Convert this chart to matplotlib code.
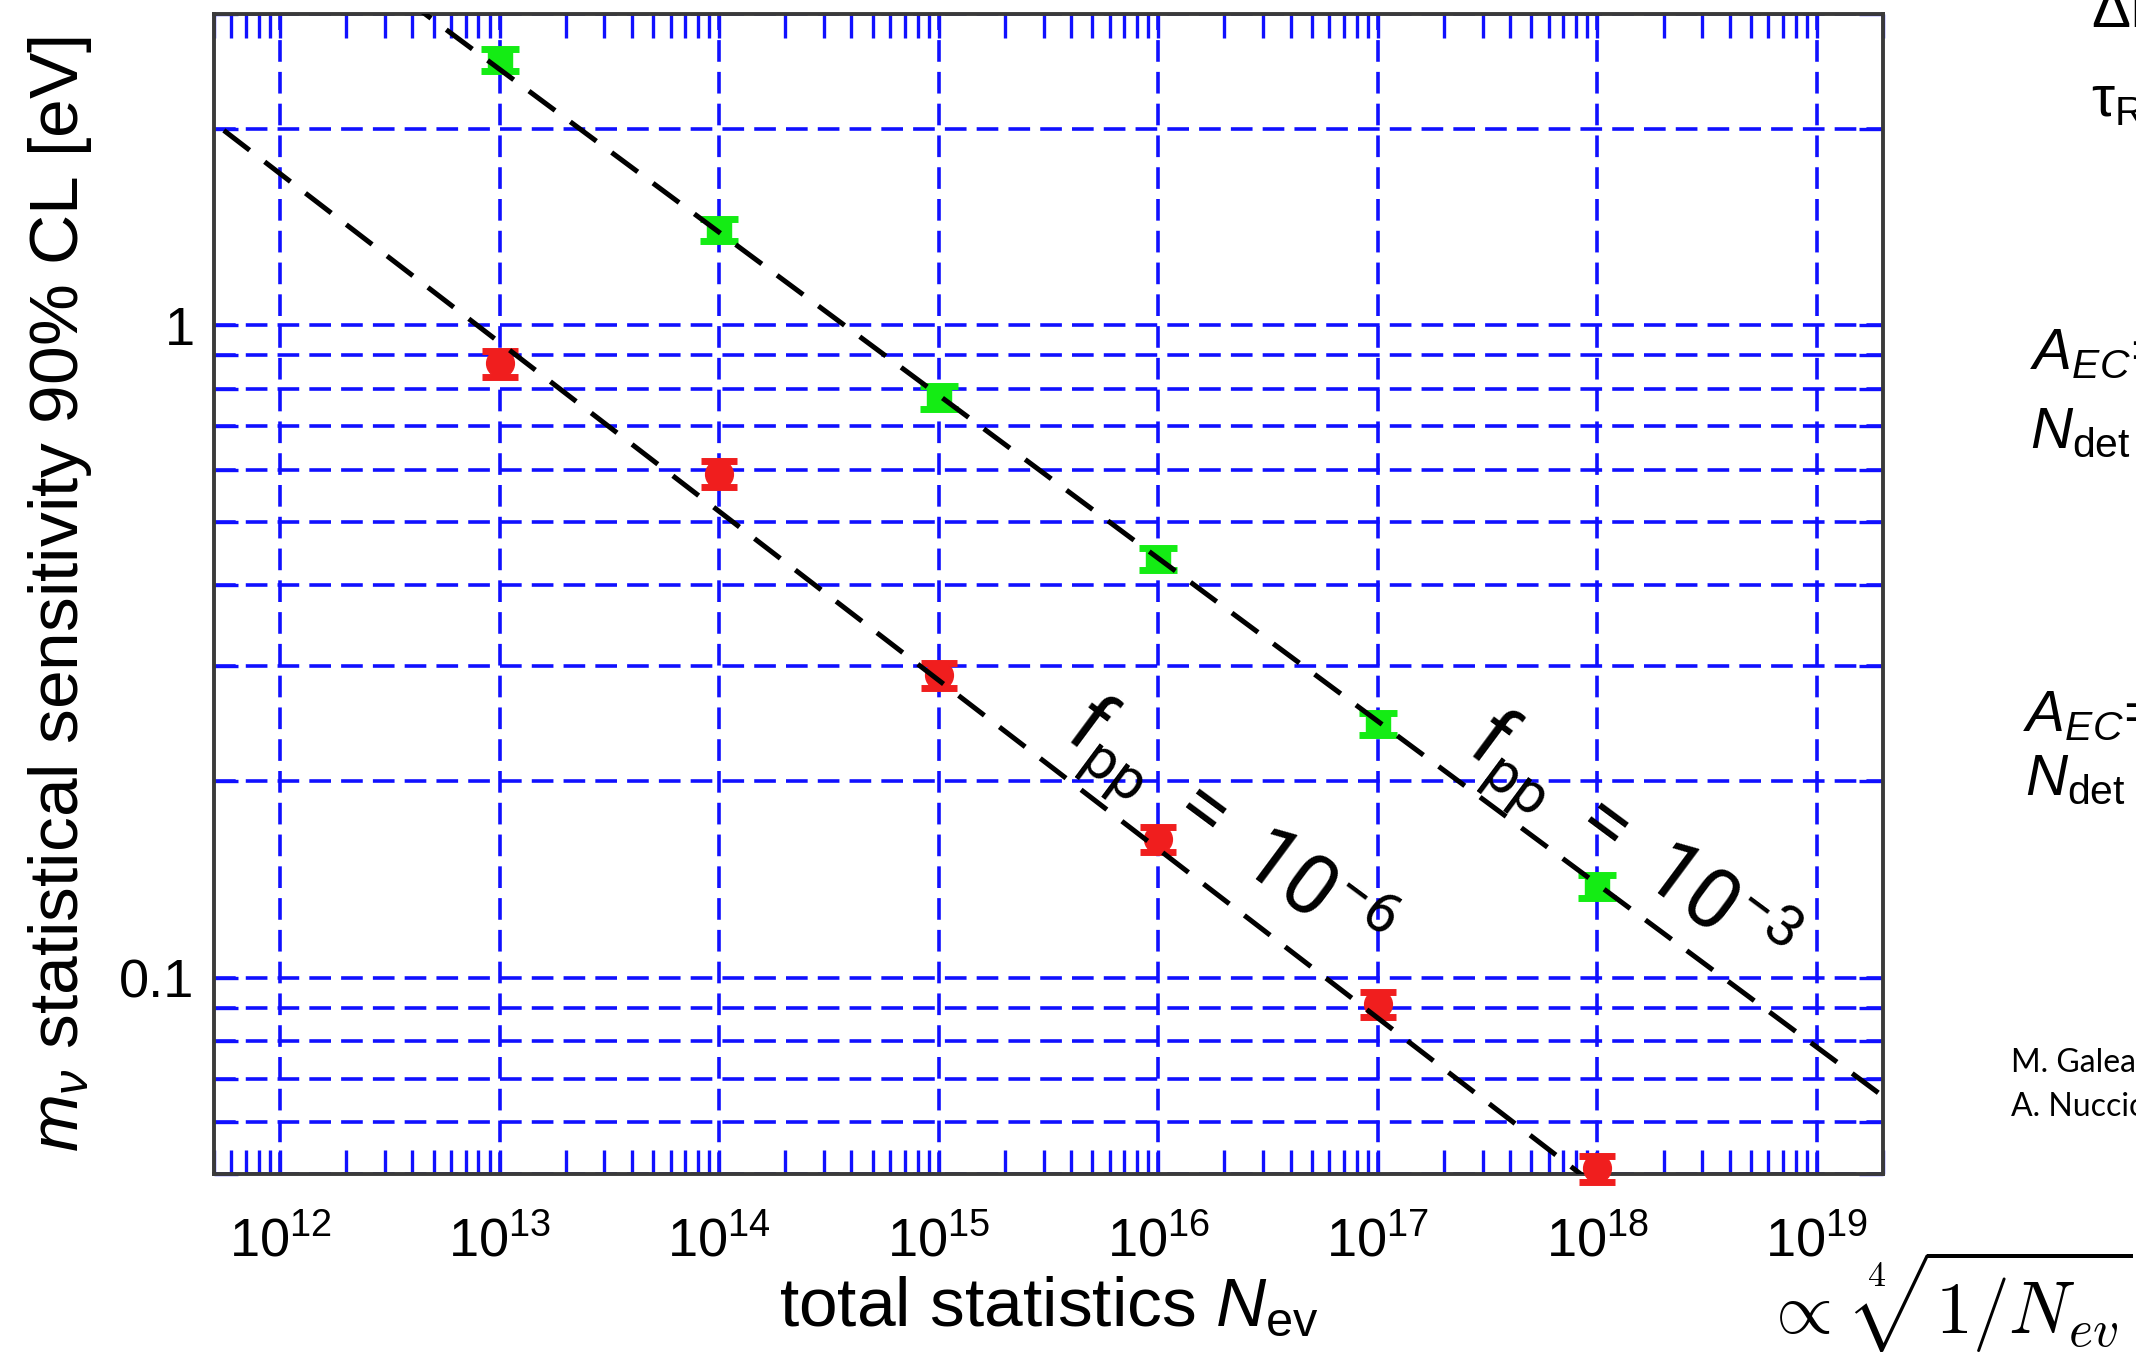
import matplotlib
matplotlib.use('Agg')
import matplotlib.pyplot as plt
from matplotlib.ticker import LogLocator, NullFormatter, FuncFormatter

plt.rcParams['font.family'] = ['Liberation Sans', 'DejaVu Sans']
plt.rcParams['mathtext.fontset'] = 'custom'
plt.rcParams['mathtext.rm'] = 'Liberation Sans'
plt.rcParams['mathtext.it'] = 'Liberation Sans:italic'
plt.rcParams['mathtext.bf'] = 'Liberation Sans:bold'

# total statistics N_ev
n_ev = [1e13, 1e14, 1e15, 1e16, 1e17, 1e18]
# m_nu sensitivity [eV], f_pp = 1e-3 (green) and f_pp = 1e-6 (red)
m_fpp3 = [2.55, 1.40, 0.775, 0.439, 0.245, 0.138]
m_fpp6 = [0.874, 0.592, 0.291, 0.163, 0.091, 0.051]
err_fpp3 = [0.10, 0.055, 0.031, 0.017, 0.0095, 0.0055]
err_fpp6 = [0.04, 0.027, 0.013, 0.0074, 0.0041, 0.0023]

# dashed N^-1/4 guide lines, end values
fit_n = [1e11, 1e20]
fit_fpp3 = [7.8, 0.044]
fit_fpp6 = [3.1, 0.0145]

fig = plt.figure(figsize=(21.36, 13.54), dpi=100)
ax = fig.add_axes([0.1002, 0.1329, 0.7814, 0.8567])
ax.set_xscale('log')
ax.set_yscale('log')
ax.set_xlim(5e11, 2e19)
ax.set_ylim(0.05, 3)

ax.xaxis.set_major_locator(LogLocator(base=10, numticks=20))
ax.xaxis.set_minor_locator(LogLocator(base=10, subs=range(2, 10), numticks=40))
ax.xaxis.set_minor_formatter(NullFormatter())
ax.yaxis.set_minor_locator(LogLocator(base=10, subs=range(2, 10), numticks=20))
ax.yaxis.set_major_formatter(FuncFormatter(lambda v, p: '%g' % v))
ax.yaxis.set_minor_formatter(NullFormatter())

gridkw = dict(color='#1010ff', lw=2.6, dashes=(6.0, 2.8))
ax.xaxis.grid(True, which='major', **gridkw)
ax.yaxis.grid(True, which='both', **gridkw)
ax.set_axisbelow(True)

ax.tick_params(which='both', direction='in', top=True, right=True,
               color='#1010ff', width=2.4, length=17, labelsize=39)
ax.tick_params(axis='x', which='both', pad=30)
ax.tick_params(axis='y', which='both', pad=14)

for s in ax.spines.values():
    s.set_color('#3a3a3a')
    s.set_linewidth(2.8)

ax.errorbar(n_ev, m_fpp3, yerr=err_fpp3, fmt='s', color='#14ec14', ms=17,
            capsize=14, capthick=5, elinewidth=3, zorder=3, clip_on=False)
ax.errorbar(n_ev, m_fpp6, yerr=err_fpp6, fmt='o', color='#f01e1e', ms=20,
            capsize=13, capthick=5, elinewidth=3, zorder=3, clip_on=False)

ax.plot(fit_n, fit_fpp3, color='black', lw=3.6, dashes=(6.5, 3.8), zorder=4)
ax.plot(fit_n, fit_fpp6, color='black', lw=3.6, dashes=(6.5, 3.8), zorder=4)

txtkw = dict(rotation=-36.6, rotation_mode='anchor', ha='center', va='center',
             fontsize=60, family=['Roboto', 'DejaVu Sans'], zorder=5)
ax.text(10**16.31, 0.168, r'$\mathdefault{f_{pp}\ =\ 10^{-6}}$', **txtkw)
ax.text(10**18.14, 0.160, r'$\mathdefault{f_{pp}\ =\ 10^{-3}}$', **txtkw)

ax.set_xlabel(r'total statistics $\mathit{N}_{\mathrm{ev}}$', fontsize=50, labelpad=6)
ax.set_ylabel(r'$\mathit{m}_{\nu}$ statistical sensitivity 90% CL [eV]', fontsize=50, labelpad=18)

# slide text cut off at the right edge
fig.text(0.9789, 0.9801, 'ΔE', fontsize=42, va='baseline')
fig.text(0.9789, 0.9143, r'$\mathrm{\tau_{R}}$', fontsize=42, va='baseline')
fig.text(0.9504, 0.7275, r'$\mathit{A}_{\mathit{EC}}$=', fontsize=42, va='baseline')
fig.text(0.9504, 0.6691, r'$\mathit{N}_{\mathrm{det}}$', fontsize=42, va='baseline')
fig.text(0.9471, 0.4600, r'$\mathit{A}_{\mathit{EC}}$=', fontsize=42, va='baseline')
fig.text(0.9480, 0.4130, r'$\mathit{N}_{\mathrm{det}}$', fontsize=42, va='baseline')
fig.text(0.9415, 0.2083, 'M. Galeazzi', fontsize=23, va='baseline', family=['Lato', 'DejaVu Sans'])
fig.text(0.9415, 0.1758, 'A. Nucciotti', fontsize=23, va='baseline', family=['Lato', 'DejaVu Sans'])
fig.text(0.8255, 0.0150, r'$\propto\ \sqrt[4]{1/N_{ev}}$', fontsize=53, va='baseline',
         math_fontfamily='cm')

fig.savefig('out.png', dpi=100)
